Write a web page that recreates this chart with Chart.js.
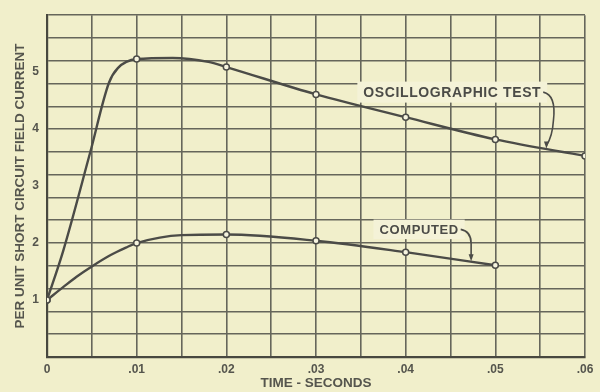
<!DOCTYPE html>
<html>
<head>
<meta charset="utf-8">
<script src="https://cdn.jsdelivr.net/npm/chart.js@4/dist/chart.umd.min.js"></script>
<style>
  html, body { margin: 0; padding: 0; background: #f1efcb; }
  canvas { display: block; }
</style>
</head>
<body>
<canvas id="c" width="600" height="392"></canvas>
<script>
// Oscillographic test curve (time in seconds, per-unit field current)
const oscTimes  = [0, 0.0018, 0.0048, 0.0069, 0.0079, 0.01, 0.014, 0.018, 0.02, 0.03, 0.04, 0.05, 0.06];
const oscValues = [1.0, 1.86, 3.58, 4.81, 5.07, 5.23, 5.25, 5.18, 5.09, 4.61, 4.21, 3.82, 3.53];

// Computed curve
const compTimes  = [0, 0.0019, 0.0033, 0.005, 0.0071, 0.0088, 0.01, 0.015, 0.02, 0.03, 0.04, 0.05];
const compValues = [1.0, 1.24, 1.41, 1.59, 1.79, 1.92, 2.0, 2.14, 2.15, 2.04, 1.84, 1.61];

// Times that carry a plotted test point
const markerTimes = [0, 0.01, 0.02, 0.03, 0.04, 0.05, 0.06];

// Axis labels
const xTickValues = [0, 0.01, 0.02, 0.03, 0.04, 0.05, 0.06];
const xTickLabels = ['0', '.01', '.02', '.03', '.04', '.05', '.06'];
const yTickValues = [1, 2, 3, 4, 5];
const yTickLabels = ['1', '2', '3', '4', '5'];
const xTitle = 'TIME - SECONDS';
const yTitle = 'PER UNIT SHORT CIRCUIT FIELD CURRENT';

// Curve callouts: label centre and leader end, in data units
const callouts = [
  { text: 'OSCILLOGRAPHIC TEST', size: 14, at: [0.0452, 4.65], tip: [0.0557, 3.66], bend: 'osc' },
  { text: 'COMPUTED',            size: 13, at: [0.0415, 2.24], tip: [0.0473, 1.68], bend: 'comp' }
];

const INK = '#4b4b47';
const GRID = '#66665b';
const FONT = '"Liberation Sans", Arial, sans-serif';

function toPoints(xs, ys) { return xs.map((x, i) => ({ x: x, y: ys[i] })); }
function isMarker(x) { return markerTimes.some(m => Math.abs(m - x) < 1e-9); }
function near(v, list) { return list.findIndex(m => Math.abs(m - v) < 1e-9); }

const calloutPlugin = {
  id: 'callouts',
  beforeDatasetsDraw(chart) {
    const ctx = chart.ctx, xs = chart.scales.x, ys = chart.scales.y;
    callouts.forEach(c => {
      const cx = xs.getPixelForValue(c.at[0]);
      const cy = ys.getPixelForValue(c.at[1]);
      const tx = xs.getPixelForValue(c.tip[0]);
      const ty = ys.getPixelForValue(c.tip[1]);
      ctx.save();
      ctx.font = 'bold ' + c.size + 'px ' + FONT;
      ctx.letterSpacing = '0.6px';
      const w = ctx.measureText(c.text).width;
      // paper patch behind the lettering
      ctx.fillStyle = '#f4f2d7';
      ctx.fillRect(cx - w / 2 - 6, cy - c.size * 0.75, w + 12, c.size * 1.5);
      ctx.fillStyle = INK;
      ctx.textAlign = 'center';
      ctx.textBaseline = 'middle';
      ctx.fillText(c.text, cx, cy + 1);
      // leader line
      const sx = cx + w / 2 + 2, sy = cy;
      ctx.strokeStyle = INK;
      ctx.lineWidth = 1.6;
      ctx.beginPath();
      ctx.moveTo(sx, sy);
      if (c.bend === 'osc') {
        const mx = tx + 7, my = (sy + ty) / 2;
        ctx.quadraticCurveTo(mx + 3, sy + 3, mx, my);
        ctx.quadraticCurveTo(mx - 1, ty - 12, tx, ty - 3);
      } else {
        ctx.quadraticCurveTo(tx, sy + 2, tx, sy + 14);
        ctx.lineTo(tx, ty - 4);
      }
      ctx.stroke();
      // arrow head
      ctx.fillStyle = INK;
      ctx.beginPath();
      ctx.moveTo(tx, ty);
      ctx.lineTo(tx - 2.5, ty - 7);
      ctx.lineTo(tx + 2.5, ty - 7);
      ctx.closePath();
      ctx.fill();
      ctx.restore();
    });
  }
};

const lineStyle = {
  borderColor: INK,
  borderWidth: 2.4,
  cubicInterpolationMode: 'monotone',
  fill: false,
  pointRadius: ctx => isMarker(ctx.raw.x) ? 3 : 0,
  pointHoverRadius: 0,
  pointBackgroundColor: '#f6f4df',
  pointBorderColor: INK,
  pointBorderWidth: 1.5
};

new Chart(document.getElementById('c'), {
  type: 'line',
  data: {
    datasets: [
      Object.assign({ label: 'Oscillographic test', data: toPoints(oscTimes, oscValues) }, lineStyle),
      Object.assign({ label: 'Computed', data: toPoints(compTimes, compValues) }, lineStyle)
    ]
  },
  options: {
    responsive: false,
    animation: false,
    devicePixelRatio: 1,
    layout: { padding: { top: 15, right: 15, left: 0, bottom: 0 } },
    plugins: { legend: { display: false }, tooltip: { enabled: false } },
    scales: {
      x: {
        type: 'linear',
        min: 0, max: 0.06,
        afterBuildTicks(scale) {
          const t = [];
          for (let k = 0; k <= 12; k++) t.push({ value: k * 0.005 });
          scale.ticks = t;
        },
        afterFit(scale) { scale.height = 35; },
        grid: { color: GRID, lineWidth: 1.6, drawTicks: false },
        border: { color: '#48483f', width: 2.2 },
        ticks: {
          padding: 5,
          color: '#55554d',
          font: { family: FONT, size: 12, weight: 'bold' },
          maxRotation: 0,
          autoSkip: false,
          callback(v) { const i = near(v, xTickValues); return i >= 0 ? xTickLabels[i] : ''; }
        },
        title: {
          display: true, text: xTitle, color: '#55554d',
          font: { family: FONT, size: 13.5, weight: 'bold' },
          padding: { top: 0, bottom: 1 }
        }
      },
      y: {
        type: 'linear',
        min: 0, max: 6,
        afterBuildTicks(scale) {
          const t = [];
          for (let k = 0; k <= 15; k++) t.push(k * 0.4);
          yTickValues.forEach(v => { if (near(v, t) < 0) t.push(v); });
          t.sort((a, b) => a - b);
          scale.ticks = t.map(v => ({ value: v }));
        },
        afterFit(scale) { scale.width = 47; },
        grid: {
          color: ctx => {
            const v = ctx.tick ? ctx.tick.value : 0;
            const r = v / 0.4;
            return Math.abs(r - Math.round(r)) < 1e-6 ? GRID : 'rgba(0,0,0,0)';
          },
          lineWidth: 1.6, drawTicks: false
        },
        border: { color: '#48483f', width: 2.2 },
        ticks: {
          padding: 8,
          color: '#55554d',
          font: { family: FONT, size: 12, weight: 'bold' },
          autoSkip: false,
          callback(v) { const i = near(v, yTickValues); return i >= 0 ? yTickLabels[i] : ''; }
        },
        title: {
          display: true, text: yTitle, color: '#55554d',
          font: { family: FONT, size: 13.5, weight: 'bold' },
          padding: { top: 12, bottom: 0 }
        }
      }
    }
  },
  plugins: [calloutPlugin]
});
</script>
</body>
</html>
